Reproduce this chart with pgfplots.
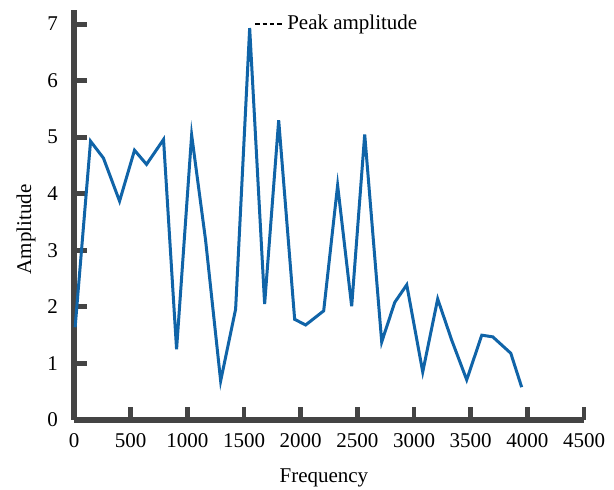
\documentclass[border=0pt]{standalone}
\usepackage{fontspec}
\setmainfont{Liberation Serif}
\usepackage{pgfplots}
\pgfplotsset{compat=1.18}
\definecolor{lineblue}{RGB}{16,100,168}
\definecolor{axgray}{RGB}{68,68,68}
\begin{document}
\begin{tikzpicture}[font=\fontsize{10.5}{12.6}\selectfont]
\useasboundingbox (-37pt,-35pt) rectangle (270pt,210pt);
\begin{axis}[
  at={(0,0)}, anchor=south west,
  scale only axis,
  width=255pt, height=205pt,
  xmin=0, xmax=4500, ymin=0, ymax=7.25,
  axis x line*=bottom, axis y line*=left,
  axis line style={-, line width=2.6pt, color=axgray},
  xtick={0,500,...,4500},
  ytick={0,1,...,7},
  tick align=inside,
  major tick length=6.5pt,
  tick style={line width=2.4pt, color=axgray},
  /pgf/number format/assume math mode=true,
  /pgf/number format/1000 sep={},
  scaled x ticks=false,
  xticklabel style={yshift=-3.2pt},
  yticklabel style={xshift=-4.5pt},
  xlabel={Frequency},
  ylabel={Amplitude},
  every axis x label/.style={at={(axis description cs:0.49,0)}, anchor=north, yshift=-21pt},
  every axis y label/.style={at={(axis description cs:-0.094,0.465)}, anchor=center, rotate=90},
  legend image code/.code={\draw[#1] (0pt,0pt) -- (14pt,0pt);},
  legend style={at={(axis cs:1594,7.0)}, anchor=west, draw=none, fill=none,
    inner sep=0pt, outer sep=0pt, nodes={inner sep=1.5pt}},
  clip=false,
]
\addplot[lineblue, line width=1.5pt, forget plot] coordinates {
(10,1.64) (146,4.93) (260,4.63) (402,3.87) (534,4.77) (640,4.52)
(790,4.96) (905,1.25) (1038,5.04) (1161,3.18) (1294,0.69) (1426,1.96)
(1550,6.93) (1682,2.05) (1806,5.30) (1947,1.78) (2044,1.68) (2203,1.93)
(2326,4.15) (2450,2.01) (2565,5.05) (2715,1.38) (2830,2.08) (2936,2.39)
(3077,0.85) (3209,2.14) (3333,1.41) (3465,0.71) (3598,1.50) (3695,1.47)
(3854,1.18) (3950,0.58)
};
\addlegendimage{black, line width=0.8pt, dash pattern=on 2.3pt off 1.3pt}
\addlegendentry{Peak amplitude}
\end{axis}
\end{tikzpicture}
\end{document}
